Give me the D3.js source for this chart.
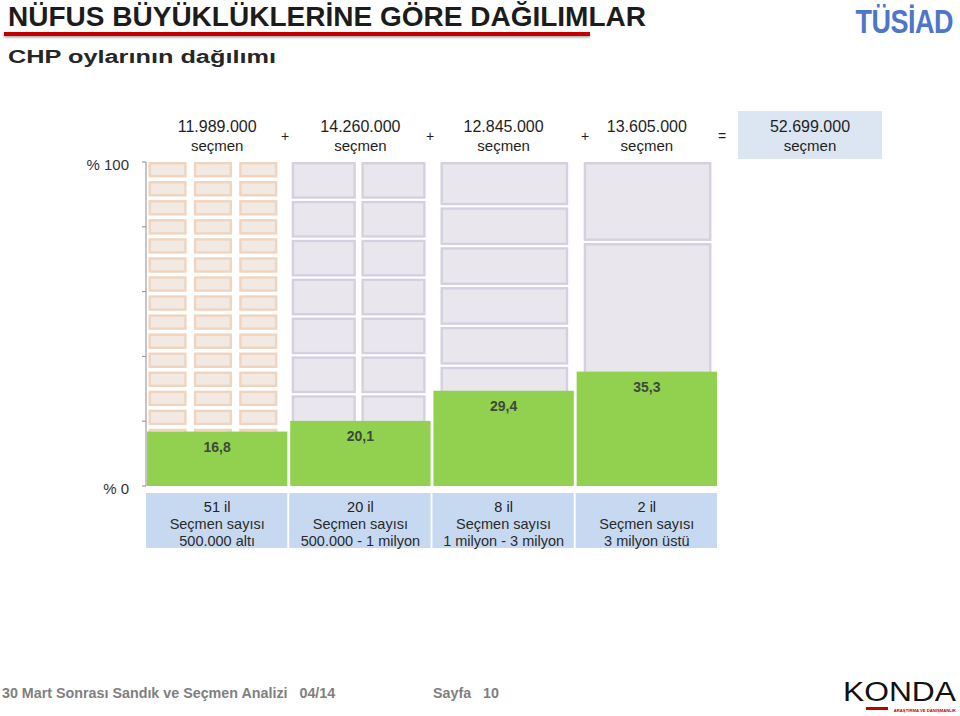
<!DOCTYPE html>
<html><head><meta charset="utf-8">
<script src="https://cdn.jsdelivr.net/npm/d3@7"></script>
<style>
html,body{margin:0;padding:0;background:#fff;}
svg{display:block;font-family:"Liberation Sans",Arial,sans-serif;}
</style></head>
<body>
<svg id="chart" width="960" height="716"></svg>
<script>
// ---- data ----
const groupLabels = ["500.000 altı", "500.000 - 1 milyon", "1 milyon - 3 milyon", "3 milyon üstü"];
const voterCounts = ["11.989.000", "14.260.000", "12.845.000", "13.605.000"];
const totalVoters = "52.699.000";
const chpShare = [16.8, 20.1, 29.4, 35.3];
const provinceCount = [51, 20, 8, 2];
const gridColumns = [3, 2, 1, 1];
const rowShares = [
  [5.88,5.88,5.88,5.88,5.88,5.88,5.88,5.88,5.88,5.88,5.88,5.88,5.88,5.88,5.88,5.88,5.92],
  [12,12,12,12,12,12,12,5.33,5.33,5.34],
  [14,12.3,12.3,12.3,12.3,12.3,12.3,12.2],
  [25,75]
];
const yTicks = [0, 20, 40, 60, 80, 100];
const yTickLabels = {0: "% 0", 100: "% 100"};

// ---- layout ----
const svg = d3.select("#chart");
const y = d3.scaleLinear().domain([0, 100]).range([486, 162]);
const x = d3.scaleBand().domain(d3.range(4)).range([147, 717]).paddingInner(0.02).paddingOuter(0);
const bw = x.bandwidth();
const fmt = v => d3.format(".1f")(v).replace(".", ",");

// Title
svg.append("text").attr("x", 8).attr("y", 25.5)
  .attr("textLength", 638).attr("lengthAdjust", "spacingAndGlyphs")
  .attr("font-size", 27).attr("font-weight", "bold").attr("fill", "#1c1c1c")
  .text("NÜFUS BÜYÜKLÜKLERİNE GÖRE DAĞILIMLAR");
const defs = svg.append("defs");
const f = defs.append("filter").attr("id", "sh").attr("x", "-5%").attr("y", "-50%").attr("width", "110%").attr("height", "300%");
f.append("feDropShadow").attr("dx", 0).attr("dy", 1.5).attr("stdDeviation", 1).attr("flood-color", "#000").attr("flood-opacity", 0.35);
svg.append("rect").attr("x", 4).attr("y", 32).attr("width", 586).attr("height", 4)
  .attr("fill", "#c00000").attr("filter", "url(#sh)");
svg.append("text").attr("x", 8).attr("y", 63)
  .attr("textLength", 268).attr("lengthAdjust", "spacingAndGlyphs")
  .attr("font-size", 18).attr("font-weight", "bold").attr("fill", "#262626")
  .text("CHP oylarının dağılımı");

// TUSIAD logo
svg.append("text").attr("transform", "translate(953,33) scale(1,1.2)").attr("text-anchor", "end")
  .attr("font-size", 27).attr("font-weight", "bold").attr("fill", "#4d76c8")
  .attr("letter-spacing", -0.5)
  .text("TÜSİAD");

// Y axis
const axG = svg.append("g");
axG.append("line").attr("x1", 146).attr("x2", 146).attr("y1", y(100)).attr("y2", y(0))
  .attr("stroke", "#8c8c8c").attr("stroke-width", 1);
axG.selectAll("line.tick").data(yTicks).join("line").attr("class", "tick")
  .attr("x1", 142).attr("x2", 146).attr("y1", d => y(d)).attr("y2", d => y(d))
  .attr("stroke", "#8c8c8c");
axG.selectAll("text").data(yTicks.filter(d => yTickLabels[d])).join("text")
  .attr("x", 129).attr("y", d => y(d) + 8).attr("text-anchor", "end")
  .attr("font-size", 15).attr("fill", "#333").text(d => yTickLabels[d]);

// Grid cells (provinces)
chpShare.forEach((v, i) => {
  const x0 = x(i);
  const ncol = gridColumns[i];
  const endPad = i === 0 ? 10 : (i === 1 ? 5 : 0);
  const inner = d3.scaleBand().domain(d3.range(ncol))
    .range([x0 + 1.5, x0 + bw - endPad]).paddingInner(ncol === 3 ? 0.16 : 0.08);
  const gap = i === 0 ? 6 : 4.5;
  const cum = d3.cumsum(rowShares[i]);
  const cells = [];
  rowShares[i].forEach((s, r) => {
    const t0 = 100 - (cum[r] - s);
    const b0 = 100 - cum[r];
    for (let c = 0; c < ncol; c++) cells.push({t0, b0, c});
  });
  svg.append("g").selectAll("rect").data(cells).join("rect")
    .attr("x", d => inner(d.c) + 1.2)
    .attr("y", d => y(d.t0) + 1.2)
    .attr("width", inner.bandwidth() - 2.4)
    .attr("height", d => Math.max(0, y(d.b0) - y(d.t0) - gap))
    .attr("fill", i === 0 ? "#f3e9e3" : "#e9e6ee")
    .attr("stroke", i === 0 ? "#efd4bf" : "#d5d0e0")
    .attr("stroke-width", 2.4);
});

// Green CHP bars
svg.append("g").selectAll("rect").data(chpShare).join("rect")
  .attr("x", (d, i) => x(i)).attr("y", d => y(d))
  .attr("width", bw).attr("height", d => y(0) - y(d))
  .attr("fill", "#92d050");
svg.append("g").selectAll("text").data(chpShare).join("text")
  .attr("x", (d, i) => x(i) + bw / 2).attr("y", d => y(d) + 20)
  .attr("text-anchor", "middle").attr("font-size", 14).attr("font-weight", "bold")
  .attr("fill", "#3d4a3a").text(d => fmt(d));

// Top voter counts
svg.insert("rect", "g").attr("x", 738).attr("y", 111).attr("width", 144).attr("height", 48).attr("fill", "#dce6f2");
const topG = svg.append("g").attr("fill", "#1e1e1e");
topG.selectAll("text.num").data(voterCounts).join("text").attr("class", "num")
  .attr("x", (d, i) => x(i) + bw / 2).attr("y", 132).attr("text-anchor", "middle")
  .attr("font-size", 16).text(d => d);
topG.selectAll("text.unit").data(voterCounts).join("text").attr("class", "unit")
  .attr("x", (d, i) => x(i) + bw / 2).attr("y", 151).attr("text-anchor", "middle")
  .attr("font-size", 15).text("seçmen");
const ops = ["+", "+", "+", "="];
const opX = [285, 430, 585, 722];
topG.selectAll("text.op").data(ops).join("text").attr("class", "op")
  .attr("x", (d, i) => opX[i]).attr("y", 141).attr("text-anchor", "middle")
  .attr("font-size", 14).text(d => d);
topG.append("text").attr("x", 810).attr("y", 132).attr("text-anchor", "middle").attr("font-size", 16).text(totalVoters);
topG.append("text").attr("x", 810).attr("y", 151).attr("text-anchor", "middle").attr("font-size", 15).text("seçmen");

// Bottom category boxes
const botG = svg.append("g");
botG.selectAll("rect").data(groupLabels).join("rect")
  .attr("x", (d, i) => x(i) - 1).attr("y", 493).attr("width", bw + 1).attr("height", 55)
  .attr("fill", "#c6d9f1");
const lines = groupLabels.map((g, i) => [provinceCount[i] + " il", "Seçmen sayısı", g]);
lines.forEach((ls, i) => {
  ls.forEach((t, k) => {
    botG.append("text").attr("x", x(i) + bw / 2).attr("y", 512 + k * 17)
      .attr("text-anchor", "middle").attr("font-size", 14.5)
      .attr("fill", k === 0 ? "#222" : "#2a2a2a").text(t);
  });
});

// Footer
svg.append("text").attr("x", 2).attr("y", 698).attr("font-size", 14.3).attr("font-weight", "bold")
  .attr("fill", "#7f7f7f").attr("xml:space", "preserve")
  .text("30 Mart Sonrası Sandık ve Seçmen Analizi   04/14");
svg.append("text").attr("x", 433).attr("y", 698).attr("font-size", 14.3).attr("font-weight", "bold")
  .attr("fill", "#7f7f7f").attr("xml:space", "preserve").text("Sayfa   10");

// KONDA logo
svg.append("text").attr("x", 956).attr("y", 701).attr("text-anchor", "end")
  .attr("textLength", 113).attr("lengthAdjust", "spacingAndGlyphs")
  .attr("font-size", 27).attr("fill", "#111").text("KONDA");
svg.append("rect").attr("x", 866).attr("y", 707).attr("width", 22).attr("height", 3).attr("fill", "#c00000");
svg.append("text").attr("x", 956).attr("y", 711.5).attr("text-anchor", "end")
  .attr("font-size", 4.2).attr("font-weight", "bold").attr("fill", "#c00000").text("ARAŞTIRMA VE DANIŞMANLIK");
</script>
</body></html>
